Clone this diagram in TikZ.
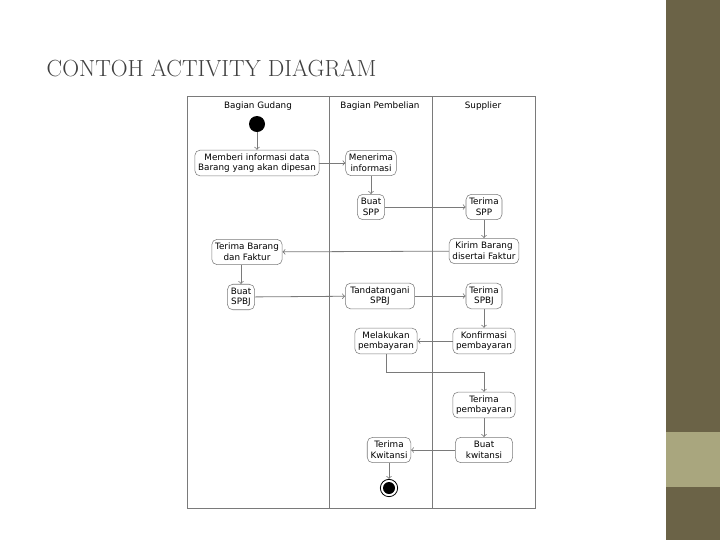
\documentclass[tikz,border=0pt]{standalone}
\usepackage{fontspec}
\setsansfont{DejaVu Sans}
\usetikzlibrary{arrows, positioning, calc}
\definecolor{olive}{HTML}{6B6347}
\definecolor{lightolive}{HTML}{A9A67E}
\definecolor{linegray}{HTML}{7A7A7A}

\begin{document}
\begin{tikzpicture}[x=0.75pt, y=-0.75pt]
    \tikzstyle{act}=[draw=linegray, rounded corners=4pt, fill=white, align=center,
        font=\sffamily\fontsize{6.6}{8}\selectfont, inner sep=2.5pt]
    \tikzstyle{flow}=[->, >=to, draw=linegray, line width=0.6pt, arrows={-to[scale=1.6]}]
    \useasboundingbox (0,0) rectangle (720,540);
    \fill[olive] (666,0) rectangle (720,540);
    \fill[lightolive] (666,432) rectangle (720,487);
    \node[anchor=west, text=black!75, font=\fontsize{17.5}{20}\selectfont] (title) at (42,68) {CONTOH ACTIVITY DIAGRAM};

    % swimlanes
    \draw[linegray, line width=0.7pt] (187,96) rectangle (535,508);
    \draw[linegray, line width=0.7pt] (329,96) -- (329,508) (432,96) -- (432,508);
    \node[font=\sffamily\fontsize{6.6}{8}\selectfont] (lg) at (258,106) {Bagian Gudang};
    \node[font=\sffamily\fontsize{6.6}{8}\selectfont] (lp) at (380,106) {Bagian Pembelian};
    \node[font=\sffamily\fontsize{6.6}{8}\selectfont] (ls) at (483,106) {Supplier};

    \node[circle, fill=black, minimum size=12pt, inner sep=0pt] (start) at (257,124) {};
    \node[act, minimum width=85pt, minimum height=19pt] (memberi) at (257,163) {Memberi informasi data\\Barang yang akan dipesan};
    \node[act, minimum height=19pt] (menerima) at (371,163) {Menerima\\informasi};
    \node[act, minimum height=19pt] (spp) at (371,207) {Buat\\SPP};
    \node[act, minimum height=19pt] (tspp) at (484,207) {Terima\\SPP};
    \node[act, minimum height=19pt] (kirim) at (484,251) {Kirim Barang\\disertai Faktur};
    \node[act, minimum height=19pt] (tbarang) at (247,252) {Terima Barang\\dan Faktur};
    \node[act, minimum height=19pt] (spbj) at (241,297) {Buat\\SPBJ};
    \node[act, minimum width=52pt, minimum height=19pt] (ttd) at (380,296) {Tandatangani\\SPBJ};
    \node[act, minimum height=19pt] (tspbj) at (484,296) {Terima\\SPBJ};
    \node[act, minimum height=19pt] (bayar) at (386,341) {Melakukan\\pembayaran};
    \node[act, minimum height=19pt] (konf) at (484,341) {Konfirmasi\\pembayaran};
    \node[act, minimum height=19pt] (tbayar) at (484,405) {Terima\\pembayaran};
    \node[act, minimum height=19pt] (kw) at (389,450) {Terima\\Kwitansi};
    \node[act, minimum width=43pt, minimum height=19pt] (bkw) at (484,450) {Buat\\kwitansi};
    \node[circle, draw=black, line width=0.6pt, fill=white, minimum size=13pt, inner sep=0pt] (end) at (389,488) {};
    \node[circle, fill=black, minimum size=9pt, inner sep=0pt] at (end) {};

    \path[flow]
    (start) edge (memberi)
    (memberi) edge (menerima)
    (menerima) edge (spp)
    (spp) edge (tspp)
    (tspp) edge (kirim)
    (kirim) edge (tbarang)
    (spbj) edge (ttd)
    (ttd) edge (tspbj)
    (tspbj) edge (konf)
    (konf) edge (bayar)
    (tbayar) edge (bkw)
    (bkw) edge (kw)
    (kw) edge (end);
    \draw[flow] (tbarang.south -| spbj.north) -- (spbj.north);
    \draw[flow] (bayar.south) -- ++(0,18) -| (tbayar.north);
\end{tikzpicture}
\end{document}
